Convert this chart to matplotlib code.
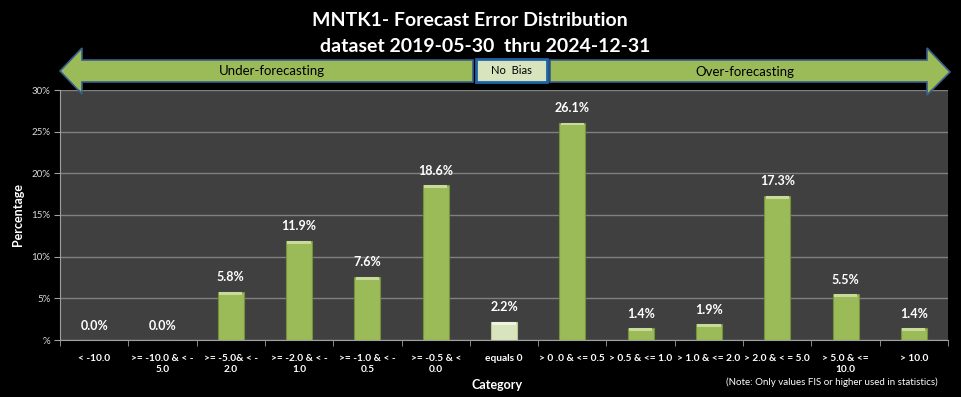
import matplotlib.pyplot as plt
import numpy as np
from matplotlib.patches import Polygon, Rectangle

plt.rcParams['font.family'] = ['Lato', 'DejaVu Sans']

categories = ["< -10.0", ">= -10.0 & < -\n5.0", ">= -5.0& < -\n2.0", ">= -2.0 & < -\n1.0",
              ">= -1.0 & < -\n0.5", ">= -0.5 & <\n0.0", "equals 0", "> 0 .0 & <= 0.5",
              "> 0.5 & <= 1.0", "> 1.0 & <= 2.0", "> 2.0 & < = 5.0", "> 5.0 & <=\n10.0", "> 10.0"]
percent = [0.0, 0.0, 5.8, 11.9, 7.6, 18.6, 2.2, 26.1, 1.4, 1.9, 17.3, 5.5, 1.4]
y_ticks = [0, 5, 10, 15, 20, 25, 30]
y_tick_labels = ["%", "5%", "10%", "15%", "20%", "25%", "30%"]

W, H = 961, 397
fig = plt.figure(figsize=(W / 100, H / 100), dpi=100, facecolor="black")


def fx(px):
    return px / W


def fy(py):
    return 1 - py / H


ax = fig.add_axes([fx(60), fy(340), fx(948) - fx(60), fy(90) - fy(340)])
ax.set_facecolor("#404040")

x = np.arange(len(categories))
colors = ["#9BBB59"] * len(categories)
colors[6] = "#D7E4BD"
edges = ["#76923C"] * len(categories)
edges[6] = "#B5C98F"
ax.bar(x, percent, width=0.38, color=colors, edgecolor=edges, linewidth=0.8, zorder=3)
# light bevel along the top of each bar
tops = [max(p - 0.35, 0) for p in percent]
caps = [p - t for p, t in zip(percent, tops)]
cap_colors = ["#C8DB9A"] * len(categories)
cap_colors[6] = "#EEF4E0"
ax.bar(x, caps, bottom=tops, width=0.34, color=cap_colors, linewidth=0, zorder=4)

for xi, p in zip(x, percent):
    ax.annotate(f"{p:.1f}%", (xi, p), xytext=(0, 6), textcoords="offset points",
                ha="center", va="bottom", color="white", fontsize=9, fontweight="bold")

ax.set_xlim(-0.5, len(categories) - 0.5)
ax.set_ylim(0, 30)
ax.set_yticks(y_ticks)
ax.set_yticklabels(y_tick_labels, color="#D9D9D9", fontsize=7)
ax.yaxis.grid(True, color="#808080", linewidth=1, zorder=0)
ax.set_axisbelow(True)

ax.set_xticks(x)
ax.set_xticklabels(categories, color="white", fontsize=7.3, fontweight="bold", linespacing=1.3)
ax.tick_params(axis="x", which="major", length=0, pad=10)
ax.set_xticks(np.arange(-0.5, len(categories)), minor=True)
ax.tick_params(axis="x", which="minor", length=4, color="#A0A0A0", direction="out")
ax.tick_params(axis="y", length=4, color="#A0A0A0", pad=3)

for side in ["top", "right"]:
    ax.spines[side].set_visible(False)
for side in ["left", "bottom"]:
    ax.spines[side].set_color("#A0A0A0")

ax.set_ylabel("Percentage", color="white", fontsize=9, fontweight="bold", labelpad=5)
fig.text(fx(497), fy(385), "Category", color="white", fontsize=9, fontweight="bold",
         ha="center", va="center")
fig.text(fx(938), fy(382), "(Note: Only values FIS or higher used in statistics)",
         color="white", fontsize=7, ha="right", va="center")

fig.text(fx(470), fy(20), "MNTK1- Forecast Error Distribution", color="white",
         fontsize=14, fontweight="bold", ha="center", va="center")
fig.text(fx(485), fy(46), "dataset 2019-05-30  thru 2024-12-31", color="white",
         fontsize=14, fontweight="bold", ha="center", va="center")

# bias arrows
left_arrow = [(60, 71), (82, 48), (82, 60), (473, 60), (473, 82), (82, 82), (82, 94)]
right_arrow = [(950, 72), (927, 48), (927, 60), (550, 60), (550, 82), (927, 82), (927, 95)]
for pts in (left_arrow, right_arrow):
    fig.patches.append(Polygon([(fx(px), fy(py)) for px, py in pts], closed=True,
                               transform=fig.transFigure, facecolor="#9BBB59",
                               edgecolor="#385D8A", linewidth=1.2))
fig.patches.append(Rectangle((fx(476), fy(82)), fx(547) - fx(476), fy(59) - fy(82),
                             transform=fig.transFigure, facecolor="#D7E4BD",
                             edgecolor="#1F63A8", linewidth=2))
fig.text(fx(272), fy(71), "Under-forecasting", color="black", fontsize=9.5,
         ha="center", va="center")
fig.text(fx(745), fy(72), "Over-forecasting", color="black", fontsize=9.5,
         ha="center", va="center")
fig.text(fx(511), fy(71), "No  Bias", color="black", fontsize=8, ha="center", va="center")

fig.savefig("out.png", dpi=100, facecolor="black")
plt.close(fig)
